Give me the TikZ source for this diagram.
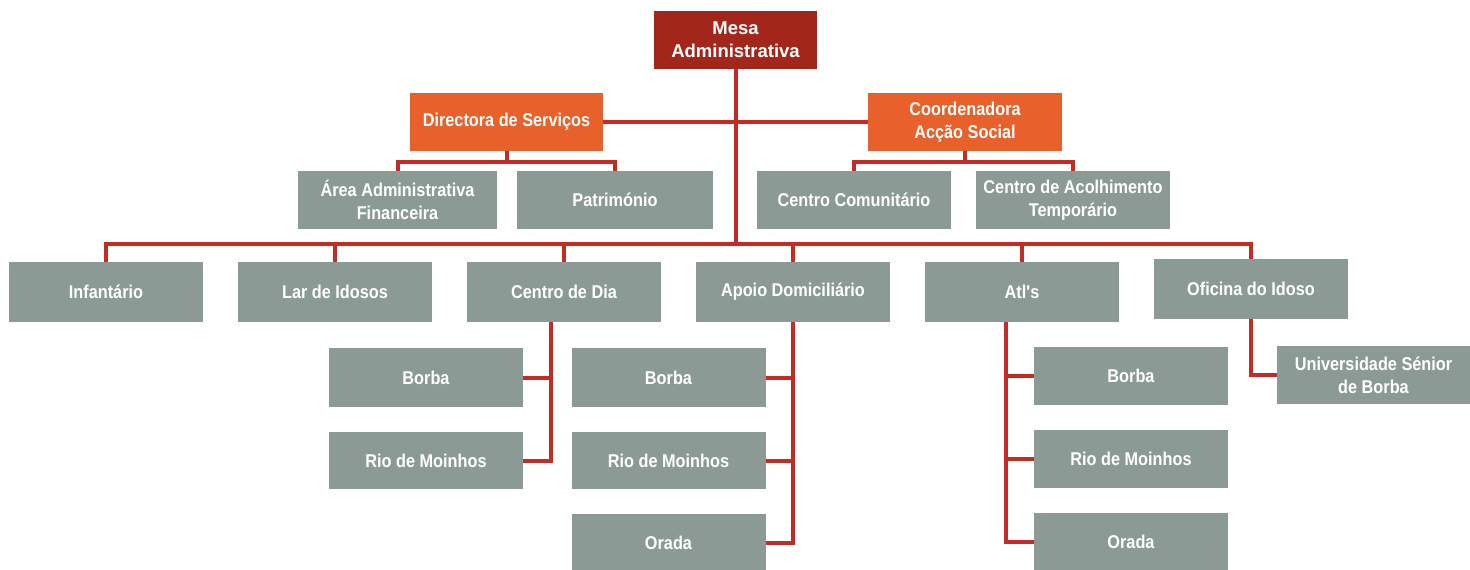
\documentclass[tikz,border=0pt]{standalone}
\usepackage{fontspec}
\setmainfont{Liberation Sans}
\newfontfamily\boxfont[FakeStretch=0.88]{Liberation Sans Bold}
\newfontfamily\mesafont{Liberation Sans Bold}
\definecolor{mesared}{HTML}{A3261B}
\definecolor{orangebox}{HTML}{E8602A}
\definecolor{graybox}{HTML}{8C9A95}
\definecolor{linered}{HTML}{C42B22}
\begin{document}
\begin{tikzpicture}[x=1pt,y=-1pt,
  base/.style={rectangle, inner sep=0pt, text=white, align=center,
     font=\boxfont\fontsize{18.5}{23}\selectfont, minimum width=194pt, minimum height=58pt},
  gbox/.style={base, fill=graybox},
  obox/.style={base, fill=orangebox},
  rbox/.style={base, fill=mesared, minimum width=163pt, font=\mesafont\fontsize{18.5}{23}\selectfont},
  conn/.style={draw=linered, line width=4pt}]
\useasboundingbox[fill=white] (0,0) rectangle (1470,570);
% top
\node[rbox] (mesa) at (735.5,40) {Mesa\\Administrativa};
\node[obox, minimum width=193pt] (dir) at (506.5,122) {Directora de Serviços};
\node[obox] (coord) at (965,122) {Coordenadora\\Acção Social};
\node[gbox, minimum width=199pt] (area) at (397.5,200) {Área Administrativa\\Financeira};
\node[gbox, minimum width=196pt] (patr) at (615,200) {Património};
\node[gbox] (ccom) at (854,200) {Centro Comunitário};
\node[gbox] (cacol) at (1073,200) {Centro de Acolhimento\\Temporário};
% row 3
\node[gbox, minimum height=60pt] (inf) at (106,292) {Infantário};
\node[gbox, minimum height=60pt] (lar) at (335,292) {Lar de Idosos};
\node[gbox, minimum height=60pt] (cdia) at (564,292) {Centro de Dia};
\node[gbox, minimum height=60pt] (apoio) at (793,292) {Apoio Domiciliário};
\node[gbox, minimum height=60pt] (atl) at (1022,292) {Atl's};
\node[gbox, minimum height=60pt] (ofic) at (1251,289) {Oficina do Idoso};
% row 4
\node[gbox, minimum height=59pt] (cdb) at (426,377.5) {Borba};
\node[gbox, minimum height=57pt] (cdr) at (426,460.5) {Rio de Moinhos};
\node[gbox, minimum height=59pt] (apb) at (668.5,377.5) {Borba};
\node[gbox, minimum height=57pt] (apr) at (668.5,460.5) {Rio de Moinhos};
\node[gbox] (apo) at (668.5,543) {Orada};
\node[gbox] (atb) at (1131,376) {Borba};
\node[gbox] (atr) at (1131,459) {Rio de Moinhos};
\node[gbox] (ato) at (1131,542) {Orada};
\node[gbox, minimum width=193pt] (univ) at (1373.5,375) {Universidade Sénior\\de Borba};
% helper coordinates
\coordinate (bus) at (0,244);
\coordinate (dlev) at (0,162);
\coordinate (cdx) at (551,0);
\coordinate (atx) at (1006,0);
% connectors
\path[conn] (dir.east) -- (coord.west);
\path[conn] (mesa.south) -- (mesa.south |- bus);
\path[conn] (inf.north) -- (inf.north |- bus) -- (ofic.north |- bus) -- (ofic.north);
\path[conn] (lar.north) -- (lar.north |- bus);
\path[conn] (cdia.north) -- (cdia.north |- bus);
\path[conn] (apoio.north) -- (apoio.north |- bus);
\path[conn] (atl.north) -- (atl.north |- bus);
\path[conn] (dir.south) -- (dir.south |- dlev);
\path[conn] (area.north) -- (area.north |- dlev) -- (patr.north |- dlev) -- (patr.north);
\path[conn] (coord.south) -- (coord.south |- dlev);
\path[conn] (ccom.north) -- (ccom.north |- dlev) -- (cacol.north |- dlev) -- (cacol.north);
\path[conn] (cdx |- cdia.south) -- (cdx |- cdr.east) -- (cdr.east);
\path[conn] (cdb.east) -- (cdx |- cdb.east);
\path[conn] (apoio.south) -- (apoio.south |- apo.east) -- (apo.east);
\path[conn] (apb.east) -- (apoio.south |- apb.east);
\path[conn] (apr.east) -- (apoio.south |- apr.east);
\path[conn] (atx |- atl.south) -- (atx |- ato.west) -- (ato.west);
\path[conn] (atb.west) -- (atx |- atb.west);
\path[conn] (atr.west) -- (atx |- atr.west);
\path[conn] (ofic.south) -- (ofic.south |- univ.west) -- (univ.west);
\end{tikzpicture}
\end{document}
